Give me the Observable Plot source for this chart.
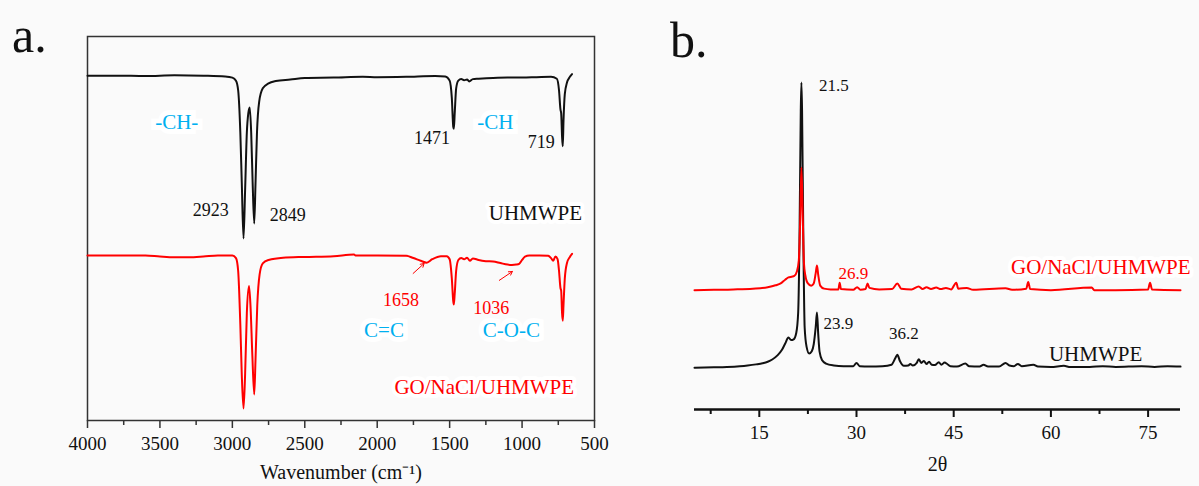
<!DOCTYPE html>
<html>
<head>
<meta charset="utf-8">
<script src="https://cdn.jsdelivr.net/npm/d3@7"></script>
<script src="https://cdn.jsdelivr.net/npm/@observablehq/plot@0.6"></script>
<style>
  html, body { margin: 0; padding: 0; background: #fafafa; }
  #wrap { position: relative; width: 1199px; height: 486px; overflow: hidden; font-family: "Liberation Serif", "Times New Roman", serif; }
  .panel { position: absolute; top: 0; }
  .tag { position: absolute; font-size: 50px; line-height: 1; color: #111; }
</style>
</head>
<body>
<div id="wrap">
  <div class="tag" style="left:12px; top:10px;">a.</div>
  <div class="tag" style="left:670px; top:15px;">b.</div>
  <div id="pa" class="panel" style="left:0px;"></div>
  <div id="pb" class="panel" style="left:600px;"></div>
</div>
<script>
// ---------- Panel a: FTIR (wavenumber, transmittance a.u.) ----------
const ftirUHMWPE = [
  [4000, 89.8], [3800, 89.8], [3600, 89.7], [3400, 89.9], [3200, 89.8], [3050, 89.6], [3000, 89.3],
  [2975, 88.5], [2960, 86], [2945, 75], [2935, 62], [2923, 47.4], [2912, 60], [2900, 75], [2890, 80],
  [2880, 81.5], [2870, 75], [2860, 62], [2849, 51.3], [2840, 62], [2830, 75], [2815, 83], [2790, 86.5],
  [2750, 87.8], [2700, 88.4], [2600, 88.8], [2500, 89.2], [2300, 89.3], [2100, 89.5], [2000, 89.4],
  [1800, 89.5], [1600, 89.7], [1530, 89.6], [1500, 88.5], [1485, 84], [1475, 76.5], [1471, 76.0],
  [1465, 80], [1455, 86.5], [1440, 88.5], [1420, 88.9], [1400, 88.6], [1380, 88.8], [1365, 88.3],
  [1340, 88.9], [1300, 89.0], [1200, 89.2], [1100, 89.3], [1000, 89.3], [900, 89.4], [800, 89.5],
  [760, 89.0], [745, 86], [735, 81], [730, 80], [724, 74], [719, 71.4], [714, 78], [705, 85],
  [690, 88], [670, 89.5], [655, 90.2]
];
const ftirComposite = [
  [4000, 43.0], [3800, 43.0], [3600, 43.0], [3500, 42.7], [3400, 42.5], [3300, 42.5], [3200, 42.7],
  [3100, 43.0], [3000, 43.0], [2975, 42.3], [2960, 39], [2945, 25], [2935, 12], [2923, 3.1], [2912, 12],
  [2900, 28], [2885, 35], [2875, 30], [2862, 17], [2849, 6.8], [2840, 16], [2828, 30], [2812, 38],
  [2790, 40.9], [2750, 41.8], [2650, 42.4], [2500, 42.6], [2300, 42.8], [2160, 43.2], [2150, 43.0],
  [2000, 43.0], [1800, 42.9], [1750, 42.3], [1700, 41.6], [1658, 41.1], [1620, 42.0], [1560, 42.8],
  [1520, 42.8], [1500, 42], [1485, 37], [1475, 31], [1471, 30.2], [1465, 33], [1455, 39], [1440, 41.8],
  [1420, 42.3], [1400, 42.0], [1380, 42.4], [1360, 41.6], [1340, 42.2], [1300, 41.8], [1250, 41.5],
  [1200, 41.4], [1150, 41.0], [1100, 40.6], [1070, 40.5], [1040, 40.6], [1020, 40.8], [1000, 41.8],
  [980, 42.7], [950, 43.0], [880, 43.0], [820, 42.9], [800, 42.3], [785, 41.6], [770, 42.7], [755, 42.0],
  [745, 39], [735, 34.5], [730, 33.8], [724, 28], [719, 26.0], [714, 30], [705, 37], [690, 41],
  [670, 42.6], [655, 43.4]
];
const ftirTicks = [4000, 3500, 3000, 2500, 2000, 1500, 1000, 500];
const ftirMinorTicks = [3750, 3250, 2750, 2250, 1750, 1250, 750];
const ftirPeakLabels = [
  {wn: 3149, t: 54.7, text: "2923"}, {wn: 2617, t: 53.4, text: "2849"},
  {wn: 1621, t: 73.4, text: "1471"}, {wn: 867, t: 72.4, text: "719"}
];
const ftirRedLabels = [
  {wn: 1835, t: 31.2, text: "1658"}, {wn: 1212, t: 29.2, text: "1036"}
];
const ftirGroupLabels = [
  {wn: 3384, t: 77.6, text: "-CH-"}, {wn: 1185, t: 77.6, text: "-CH"},
  {wn: 1953, t: 23.4, text: "C=C"}, {wn: 1074, t: 23.4, text: "C-O-C"}
];
const ftirNames = [
  {wn: 908, t: 53.9, text: "UHMWPE", color: "#111"},
  {wn: 1261, t: 8.6, text: "GO/NaCl/UHMWPE", color: "#ff0000"}
];
const ftirArrows = [
  {x1: 1752, y1: 38.3, x2: 1676, y2: 40.9},
  {x1: 1157, y1: 36.5, x2: 1067, y2: 38.8}
];

// ---------- Panel b: XRD (2θ, intensity a.u.) ----------
const xrdUHMWPE = [
  [5, 11.2], [8, 11.3], [10, 11.4], [12, 11.6], [13.2, 11.8], [14.5, 12.1], [15.5, 12.4], [16.3, 12.8],
  [17, 13.4], [17.8, 14.5], [18.5, 16.0], [19.0, 17.7], [19.5, 19.3], [19.9, 18.6], [20.3, 18.8],
  [20.7, 20.5], [21.0, 26], [21.2, 45], [21.4, 80], [21.5, 87.7], [21.6, 80], [21.8, 45], [22.0, 22],
  [22.3, 16.8], [22.7, 15.0], [23.1, 15.6], [23.4, 17.5], [23.7, 22], [23.9, 26.0], [24.1, 20],
  [24.3, 15.5], [24.7, 13.2], [25.3, 12.3], [26.5, 11.8], [28, 11.6], [29.5, 11.6], [30.0, 12.5],
  [30.5, 11.6], [32, 11.5], [34, 11.6], [35.4, 12], [36.0, 13.8], [36.3, 14.7], [36.7, 13], [37.3, 11.7],
  [38.0, 11.8], [38.3, 12.2], [38.7, 11.8], [39.3, 12.5], [39.6, 13.5], [40.0, 12.5], [40.4, 13.0],
  [40.8, 12.2], [41.2, 12.8], [41.6, 12.0], [42.1, 11.9], [42.7, 12.7], [43.1, 12.0], [43.6, 12.6],
  [44.0, 12.2], [44.5, 11.6], [45.5, 11.5], [46.8, 12.3], [47.4, 11.6], [49, 11.5], [49.6, 12.0],
  [50.3, 11.5], [52, 11.5], [53.0, 12.5], [53.6, 11.8], [54.3, 11.6], [54.9, 12.2], [55.5, 11.6],
  [57.3, 12.0], [58, 11.5], [60, 11.4], [62, 11.7], [63, 11.4], [66, 11.4], [68, 11.6], [70, 11.4],
  [74, 11.6], [76, 11.4], [78, 11.6], [80, 11.5]
];
const xrdComposite = [
  [5, 32.0], [8, 32.1], [11, 32.2], [14, 32.4], [16.3, 32.8], [17.5, 33.3], [18.3, 33.8], [19.0, 34.8],
  [19.5, 35.4], [20.0, 35.6], [20.4, 35.8], [20.8, 37], [21.1, 40], [21.3, 50], [21.5, 64.9], [21.7, 52],
  [21.9, 39], [22.1, 36.0], [22.5, 33.8], [23.0, 33.2], [23.4, 33.8], [23.7, 36.5], [23.9, 38.6],
  [24.1, 36], [24.4, 33.2], [25.0, 32.4], [26.0, 32.2], [27.2, 32.2], [27.4, 34.0], [27.6, 32.3],
  [29.5, 32.1], [30.1, 32.8], [30.6, 32.1], [31.4, 32.3], [31.7, 33.8], [32.0, 32.6], [33.5, 32.2],
  [35.5, 32.3], [36.3, 33.8], [36.9, 32.4], [38.5, 32.2], [39.6, 33.0], [40.2, 32.3], [40.8, 32.8],
  [41.5, 32.3], [42.3, 32.7], [43.0, 32.3], [43.8, 32.6], [44.6, 32.2], [45.4, 34.0], [45.7, 32.4],
  [47.0, 32.6], [48, 32.1], [53.0, 32.5], [54, 32.1], [56.2, 32.4], [56.5, 34.2], [56.8, 32.3],
  [60, 32.0], [66.3, 32.7], [66.7, 32.0], [70, 32.0], [75.0, 32.2], [75.3, 34.0], [75.6, 32.2], [80, 32.0]
];
const xrdTicks = [15, 30, 45, 60, 75];
const xrdMinorTicks = [7.5, 22.5, 37.5, 52.5, 67.5];
const xrdBlackLabels = [
  {x: 26.5, y: 86.9, text: "21.5"}, {x: 27.2, y: 23.0, text: "23.9"}, {x: 37.3, y: 20.4, text: "36.2"},
  {x: 66.9, y: 14.8, text: "UHMWPE", size: 21}
];
const xrdRedLabels = [{x: 29.5, y: 36.5, text: "26.9"}];
const xrdRedName = [{x: 67.7, y: 38.1, text: "GO/NaCl/UHMWPE"}];

const FONT = "Liberation Serif, Times New Roman, serif";
const CYAN = "#00b0f0";
const RED = "#ff0000";

const plotA = Plot.plot({
  width: 620, height: 486,
  marginLeft: 87, marginRight: 26, marginTop: 36, marginBottom: 66,
  style: {fontFamily: FONT, fontSize: "19px", color: "#111", background: "transparent", overflow: "visible"},
  x: {domain: [4000, 500], label: null},
  y: {domain: [0, 100], axis: null},
  marks: [
    Plot.frame({stroke: "#333", strokeWidth: 1.5}),
    Plot.axisX({ticks: ftirMinorTicks, tickSize: 5, tickFormat: () => "", stroke: "#333", strokeWidth: 1.5}),
    Plot.axisX({ticks: ftirTicks, tickSize: 8, tickPadding: 8, tickFormat: d => String(d), stroke: "#333", strokeWidth: 1.5, fontSize: 19}),
    Plot.line(ftirUHMWPE, {x: d => d[0], y: d => d[1], stroke: "#111", strokeWidth: 2, curve: "monotone-x"}),
    Plot.line(ftirComposite, {x: d => d[0], y: d => d[1], stroke: RED, strokeWidth: 2, curve: "monotone-x"}),
    Plot.arrow(ftirArrows, {x1: "x1", y1: "y1", x2: "x2", y2: "y2", stroke: RED, strokeWidth: 1, headLength: 6, bend: 0}),
    Plot.text(ftirPeakLabels, {x: "wn", y: "t", text: "text", fill: "#111", fontSize: 18}),
    Plot.text(ftirRedLabels, {x: "wn", y: "t", text: "text", fill: RED, fontSize: 18}),
    Plot.text(ftirGroupLabels, {x: "wn", y: "t", text: "text", fill: CYAN, fontSize: 21, stroke: "white", strokeWidth: 10, strokeLinejoin: "miter"}),
    Plot.text(ftirNames, {x: "wn", y: "t", text: "text", fill: d => d.color, fontSize: 21, stroke: "white", strokeWidth: 8}),
    Plot.text(["Wavenumber (cm\u207B\u00B9)"], {text: d => d, frameAnchor: "bottom", dy: 58, fontSize: 20, fill: "#111"})
  ]
});
document.getElementById("pa").appendChild(plotA);

const plotB = Plot.plot({
  width: 599, height: 486,
  marginLeft: 94, marginRight: 19, marginTop: 36, marginBottom: 77,
  style: {fontFamily: FONT, fontSize: "19px", color: "#111", background: "transparent", overflow: "visible"},
  x: {domain: [5, 80], label: null},
  y: {domain: [0, 100], axis: null},
  marks: [
    Plot.axisX({ticks: xrdMinorTicks, tickSize: 5, tickFormat: () => "", stroke: "#111", strokeWidth: 2}),
    Plot.axisX({ticks: xrdTicks, tickSize: 8, tickPadding: 8, tickFormat: d => String(d), stroke: "#111", strokeWidth: 2, fontSize: 19}),
    Plot.ruleY([0], {stroke: "#111", strokeWidth: 2.5}),
    Plot.line(xrdUHMWPE, {x: d => d[0], y: d => d[1], stroke: "#111", strokeWidth: 2, curve: "monotone-x"}),
    Plot.line(xrdComposite, {x: d => d[0], y: d => d[1], stroke: RED, strokeWidth: 2, curve: "monotone-x"}),
    Plot.text(xrdBlackLabels, {x: "x", y: "y", text: "text", fill: "#111", fontSize: d => d.size || 17}),
    Plot.text(xrdRedLabels, {x: "x", y: "y", text: "text", fill: RED, fontSize: 17}),
    Plot.text(xrdRedName, {x: "x", y: "y", text: "text", fill: RED, fontSize: 21, stroke: "white", strokeWidth: 8}),
    Plot.text(["2\u03B8"], {text: d => d, frameAnchor: "bottom", dy: 61, fontSize: 20, fill: "#111"})
  ]
});
document.getElementById("pb").appendChild(plotB);
</script>
</body>
</html>
